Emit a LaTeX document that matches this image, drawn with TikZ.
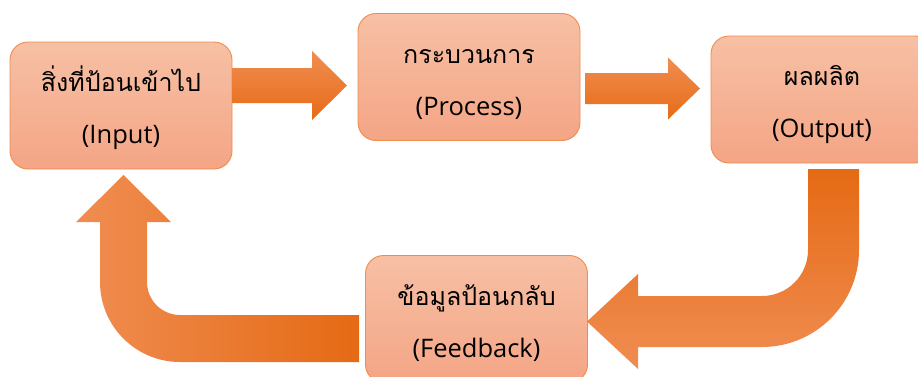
\documentclass[tikz,border=0pt]{standalone}
\usepackage{fontspec}
\setmainfont{Open Sans}
\newfontfamily\thai[Script=Thai]{Loma}
\definecolor{boxtop}{HTML}{F7C0A5}
\definecolor{boxbot}{HTML}{F4A585}
\definecolor{boxline}{HTML}{F08C4C}
\definecolor{ordark}{HTML}{E56A14}
\definecolor{ormid}{HTML}{F37B28}
\definecolor{orlight}{HTML}{F08D52}
\newcommand{\thline}[1]{{\thai\fontsize{25}{52}\selectfont\rule{0pt}{32pt}#1}}
\newcommand{\enline}[1]{#1\rule[-8pt]{0pt}{8pt}}
\tikzset{
  stepbox/.style={draw=boxline, line width=0.9pt, rounded corners=18pt,
    top color=boxtop, bottom color=boxbot, minimum width=222pt,
    minimum height=127pt, align=center, inner sep=0pt,
    font=\fontsize{25.5}{52}\selectfont},
  harrow/.style={top color=orlight, middle color=ormid, bottom color=ordark!90!ormid},
  downarrow/.style={top color=ordark, middle color=ormid, bottom color=orlight},
  backarrow/.style={left color=orlight, middle color=ormid, right color=ordark}
}
\begin{document}
\begin{tikzpicture}[x=1pt,y=1pt]
\useasboundingbox (0,0) rectangle (918,376);
\node[stepbox] (in)   at (121,270.5) {\thline{สิ่งที่ป้อนเข้าไป}\\\enline{(Input)}};
\node[stepbox] (proc) at (469,299)   {\thline{กระบวนการ}\\\enline{(Process)}};
\node[stepbox] (out)  at (822,276.5) {\thline{ผลผลิต}\\\enline{(Output)}};
\node[stepbox] (fb)   at (476.5,57)  {\thline{ข้อมูลป้อนกลับ}\\\enline{(Feedback)}};
% Input -> Process
\path[harrow] (232,273) -- (312,273) -- (312,256) -- (347,290.5) -- (312,325) -- (312,308) -- (232,308) -- cycle;
% Process -> Output
\path[harrow] (585,272) -- (668,272) -- (668,256.5) -- (700,287.5) -- (668,318.5) -- (668,303) -- (585,303) -- cycle;
% Output -> Feedback
\path[downarrow] (808,207) -- (859,207) -- (859,126) arc[start angle=0,end angle=-90,radius=97]
  -- (638,29) -- (638,7) -- (587,54.5) -- (638,102) -- (638,80) -- (762,80)
  arc[start angle=-90,end angle=0,radius=46] -- cycle;
% Feedback -> Input
\path[backarrow] (359,61) -- (180,61) arc[start angle=270,end angle=180,radius=33]
  -- (147,154) -- (171,154) -- (123.5,201) -- (76,154) -- (100,154) -- (100,94)
  arc[start angle=180,end angle=270,radius=80] -- (359,14) -- cycle;
\end{tikzpicture}
\end{document}
